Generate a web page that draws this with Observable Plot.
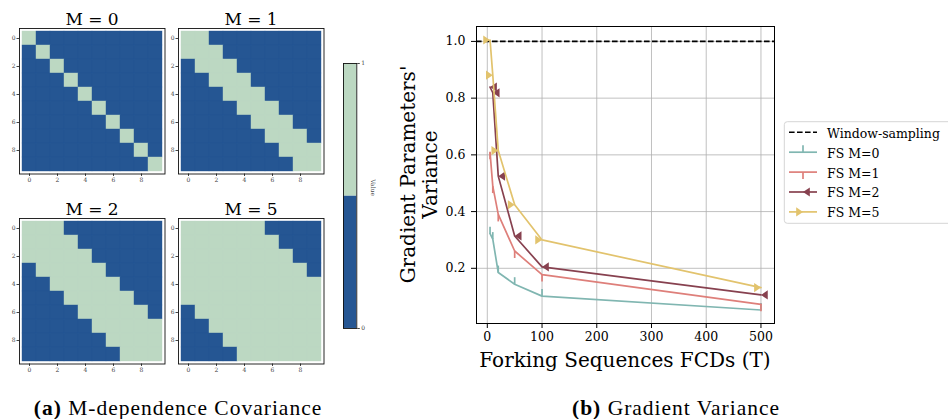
<!DOCTYPE html>
<html><head><meta charset="utf-8">
<script src="https://cdn.jsdelivr.net/npm/d3@7"></script>
<script src="https://cdn.jsdelivr.net/npm/@observablehq/plot@0.6"></script>
<style>
body{margin:0;background:#fff;}
#root{position:relative;width:948px;height:419px;overflow:hidden;background:#fff;}
#root > svg{position:absolute;overflow:visible;}
#root svg text{font-family:"DejaVu Serif" !important;}
#root svg text.cap, #root svg text.cap tspan{font-family:"Liberation Serif" !important;}
</style></head><body><div id="root"></div>
<script>
// ---------- data ----------
const heatTitles = ["M = 0", "M = 1", "M = 2", "M = 5"];
const covM0 = ["1000000000","0100000000","0010000000","0001000000","0000100000","0000010000","0000001000","0000000100","0000000010","0000000001"];
const covM1 = ["1100000000","1110000000","0111000000","0011100000","0001110000","0000111000","0000011100","0000001110","0000000111","0000000011"];
const covM2 = ["1110000000","1111000000","1111100000","0111110000","0011111000","0001111100","0000111110","0000011111","0000001111","0000000111"];
const covM5 = ["1111110000","1111111000","1111111100","1111111110","1111111111","1111111111","0111111111","0011111111","0001111111","0000111111"];
const heatIndex = [0,1,2,3,4,5,6,7,8,9];
const heatTicks = [0,2,4,6,8];
const heatColors = ["#255693", "#bcd8c2"];
const cbarTicks = [0, 1];
const cbarLabel = "Value";

const T = [5, 10, 20, 50, 100, 500];
const fsM0 = [0.322, 0.303, 0.185, 0.144, 0.102, 0.053];
const fsM1 = [0.609, 0.490, 0.390, 0.261, 0.178, 0.073];
const fsM2 = [0.839, 0.819, 0.525, 0.314, 0.205, 0.106];
const fsM5 = [1.005, 0.881, 0.615, 0.424, 0.300, 0.132];
const seriesNames = ["FS M=0", "FS M=1", "FS M=2", "FS M=5"];
const seriesColors = ["#80b6b1", "#de7f7a", "#87414f", "#e2c36d"];
const windowLabel = "Window-sampling";
const windowValue = 1.0;
const xTicks = [0, 100, 200, 300, 400, 500];
const yTicks = [0.2, 0.4, 0.6, 0.8, 1.0];
const xLabel = "Forking Sequences FCDs (T)";
const yLabel = ["Gradient Parameters'", "Variance"];
const captionA = ["(a)", "M-dependence Covariance"];
const captionB = ["(b)", "Gradient Variance"];

// ---------- helpers ----------
const root = document.getElementById("root");
const serif = "DejaVu Serif";
const tickUp = {draw(c, s){ const r = Math.sqrt(s/Math.PI); c.moveTo(0,0); c.lineTo(0,-r); }};
const tickDown = {draw(c, s){ const r = Math.sqrt(s/Math.PI); c.moveTo(0,0); c.lineTo(0,r); }};
const caretLeft = {draw(c, s){ const r = Math.sqrt(s/Math.PI); c.moveTo(0,0); c.lineTo(r,-0.68*r); c.lineTo(r,0.68*r); c.closePath(); }};
const caretRight = {draw(c, s){ const r = Math.sqrt(s/Math.PI); c.moveTo(0,0); c.lineTo(-r,-0.68*r); c.lineTo(-r,0.68*r); c.closePath(); }};
const seriesSymbols = [tickUp, tickDown, caretLeft, caretRight];
const seriesFilled = [false, false, true, true];
const seriesR = [7, 7, 6.8, 6.8];

function place(svg, left, top) {
  svg.style.left = left + "px"; svg.style.top = top + "px";
  svg.setAttribute("font-family", serif);
  root.appendChild(svg);
}

// ---------- heatmaps ----------
const heatFrames = [[19.3, 27.7], [178.3, 27.7], [19.3, 218.3], [178.3, 218.3]];
[covM0, covM1, covM2, covM5].forEach((mat, k) => {
  const cells = [];
  mat.forEach((row, i) => [...row].forEach((ch, j) => cells.push({i, j, v: +ch})));
  const mL = 20, mT = 4, size = 145.5;
  const svg = Plot.plot({
    width: mL + size + 3, height: mT + size + 14,
    marginLeft: mL, marginRight: 3, marginTop: mT, marginBottom: 14,
    style: {fontFamily: serif, fontSize: "6px", color: "#444", background: "transparent"},
    x: {type: "band", domain: heatIndex, padding: 0, ticks: heatTicks, tickSize: 2.5, tickPadding: 1.5, label: null},
    y: {type: "band", domain: heatIndex, padding: 0, ticks: heatTicks, tickSize: 2.5, tickPadding: 1.5, label: null},
    color: {type: "ordinal", domain: [0, 1], range: heatColors},
    marks: [
      Plot.cell(cells, {x: "j", y: "i", fill: "v", stroke: "v", strokeWidth: 0.4}),
      Plot.frame({stroke: "#111", strokeWidth: 0.9})
    ]
  });
  place(svg, heatFrames[k][0] - mL, heatFrames[k][1] - mT);
});

// ---------- colorbar ----------
{
  const cbarBins = [{lo: 0, hi: 0.5, v: 0}, {lo: 0.5, hi: 1, v: 1}];
  const mL = 12, mT = 12;
  const svg = Plot.plot({
    width: mL + 13.3 + 30, height: mT + 265 + 10,
    marginLeft: mL, marginRight: 30, marginTop: mT, marginBottom: 10,
    style: {fontFamily: serif, fontSize: "6px", color: "#444", background: "transparent"},
    y: {domain: [0, 1], ticks: cbarTicks, tickFormat: d3.format("d"), axis: "right", tickSize: 2.5, tickPadding: 2, label: null},
    color: {type: "ordinal", domain: [0, 1], range: heatColors},
    marks: [
      Plot.barY(cbarBins, {y1: "lo", y2: "hi", fill: "v"}),
      Plot.frame({stroke: "#111", strokeWidth: 0.9}),
      Plot.text([cbarLabel], {text: d => d, frameAnchor: "right", dx: 16, rotate: 90, fontSize: 6, fill: "#444"})
    ]
  });
  place(svg, 342.7 - mL, 63.3 - mT);
}

// ---------- line chart ----------
const seriesVals = [fsM0, fsM1, fsM2, fsM5];
const seriesData = seriesVals.map((vals, s) => vals.map((y, k) => ({series: seriesNames[s], T: T[k], y})));
{
  const mL = 40, mT = 26, W = 298, H = 297;
  const marks = [
    Plot.ruleX(xTicks, {stroke: "#b0b0b0", strokeWidth: 0.8}),
    Plot.ruleY(yTicks, {stroke: "#b0b0b0", strokeWidth: 0.8}),
    Plot.ruleY([windowValue], {stroke: "black", strokeWidth: 1.6, strokeDasharray: "5.6,2.4"})
  ];
  seriesData.forEach((d, s) => {
    marks.push(Plot.line(d, {x: "T", y: "y", stroke: seriesColors[s], strokeWidth: 1.7}));
    marks.push(Plot.dot(d, {x: "T", y: "y", symbol: seriesSymbols[s], r: seriesR[s],
      fill: seriesFilled[s] ? seriesColors[s] : "none",
      stroke: seriesFilled[s] ? "none" : seriesColors[s], strokeWidth: 1.7}));
  });
  marks.push(Plot.frame({stroke: "black", strokeWidth: 1}));
  const svg = Plot.plot({
    width: mL + W + 14, height: mT + H + 30,
    marginLeft: mL, marginRight: 14, marginTop: mT, marginBottom: 30,
    style: {fontFamily: serif, fontSize: "12.5px", color: "black", background: "transparent"},
    x: {domain: [-19.75, 524.75], ticks: xTicks, tickSize: 5, tickPadding: 4, label: null},
    y: {domain: [0.0054, 1.0526], ticks: yTicks, tickFormat: d3.format(".1f"), tickSize: 5, tickPadding: 6, label: null},
    marks
  });
  place(svg, 476 - mL, 26 - mT);
}

// ---------- overlay texts & legend ----------
{
  const svg = d3.create("svg").attr("width", 948).attr("height", 419)
    .style("left", "0px").style("top", "0px").style("pointer-events", "none")
    .attr("font-family", serif);
  const titleBase = [24.5, 24.5, 214.5, 214.5];
  heatTitles.forEach((t, k) => {
    svg.append("text").attr("x", heatFrames[k][0] + 72.75).attr("y", titleBase[k])
      .attr("text-anchor", "middle").attr("font-size", 17).text(t);
  });
  yLabel.forEach((t, i) => {
    svg.append("text").attr("transform", `translate(${[415, 436.7][i]},174.5) rotate(-90)`)
      .attr("text-anchor", "middle").attr("font-size", 20).text(t);
  });
  svg.append("text").attr("x", 625).attr("y", 366.5).attr("text-anchor", "middle")
    .attr("font-size", 20).text(xLabel);

  // legend
  const g = svg.append("g");
  g.append("rect").attr("x", 784.3).attr("y", 121.7).attr("width", 180).attr("height", 101.6)
    .attr("rx", 3).attr("fill", "white").attr("stroke", "#d5d5d5").attr("stroke-width", 1);
  const rows = [windowLabel, ...seriesNames];
  rows.forEach((label, i) => {
    const base = 137.7 + i * 19.9, ly = base - 5.4;
    if (i === 0) {
      g.append("line").attr("x1", 789).attr("x2", 817).attr("y1", ly).attr("y2", ly)
        .attr("stroke", "black").attr("stroke-width", 1.6).attr("stroke-dasharray", "5.6,2.4");
    } else {
      const s = i - 1;
      g.append("line").attr("x1", 789).attr("x2", 817).attr("y1", ly).attr("y2", ly)
        .attr("stroke", seriesColors[s]).attr("stroke-width", 1.7);
      const p = d3.path();
      seriesSymbols[s].draw(p, Math.PI * seriesR[s] * seriesR[s]);
      g.append("path").attr("d", p.toString()).attr("transform", `translate(803,${ly})`)
        .attr("fill", seriesFilled[s] ? seriesColors[s] : "none")
        .attr("stroke", seriesFilled[s] ? "none" : seriesColors[s]).attr("stroke-width", 1.7);
    }
    g.append("text").attr("x", 827).attr("y", base).attr("font-size", 12.5).text(label);
  });

  // captions
  [[captionA, 178], [captionB, 676]].forEach(([cap, cx]) => {
    const t = svg.append("text").attr("class", "cap").attr("x", cx).attr("y", 415).attr("text-anchor", "middle")
      .attr("font-size", 21.5).attr("letter-spacing", 1);
    t.append("tspan").attr("font-weight", "bold").text(cap[0]);
    t.append("tspan").text(" " + cap[1]);
  });
  root.appendChild(svg.node());
}
</script></body></html>
